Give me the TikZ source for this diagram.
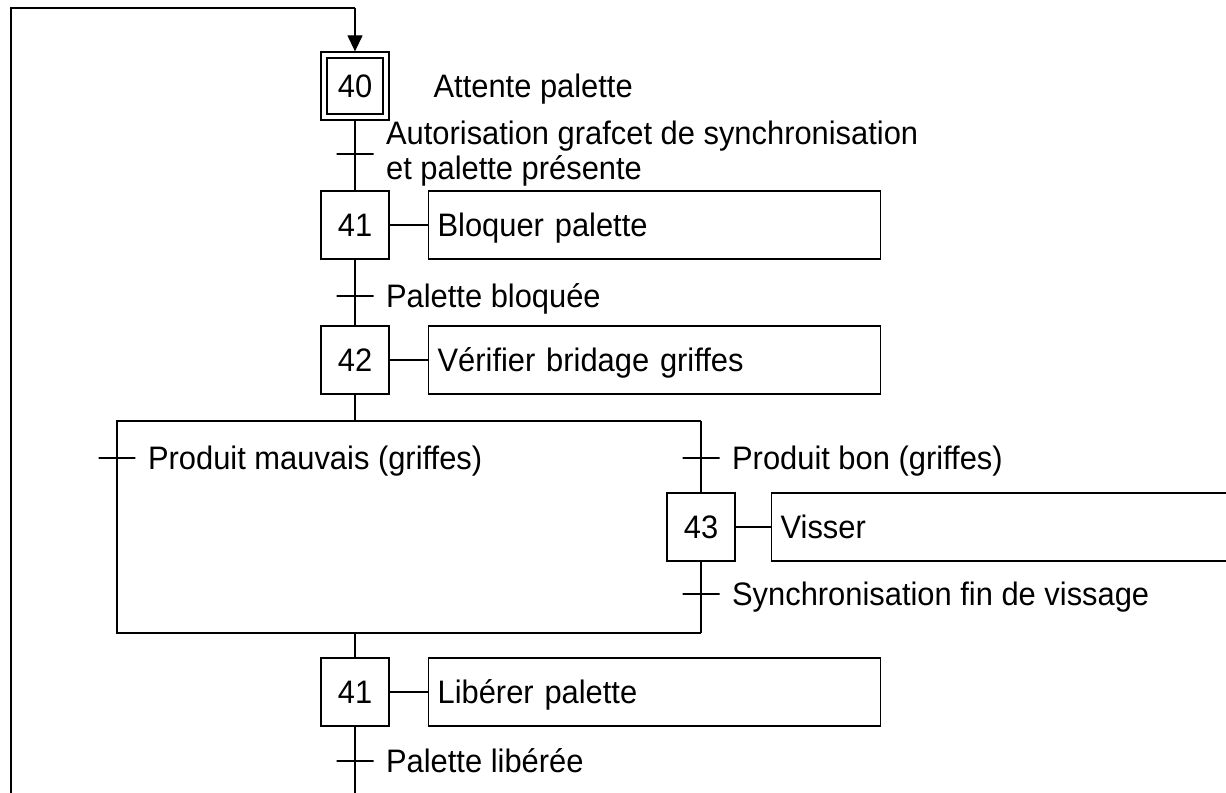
\documentclass[tikz,border=0pt]{standalone}
\usepackage{fontspec}
\setmainfont[FakeStretch=0.95]{Liberation Sans}
\usetikzlibrary{arrows.meta,positioning}
\tikzset{
  etape/.style={draw,minimum width=1.36cm,minimum height=1.36cm,inner sep=0pt},
  etapeinit/.style={draw,double,double distance=0.096cm,minimum width=1.24cm,minimum height=1.24cm,inner sep=0pt,outer sep=0.073cm},
  action/.style={draw,anchor=west,minimum width=9.04cm,minimum height=1.36cm,text width=8.68cm,inner xsep=0.18cm,align=left,text height=13.3pt,text depth=0pt},
  trans/.style={draw,minimum width=0.74cm,minimum height=0pt,inner sep=0pt,outer sep=0pt},
  txt/.style={inner sep=0pt,text height=13.3pt,text depth=0pt},
  fleche/.style={-{Triangle[length=0.32cm,width=0.3cm]}},
}
\begin{document}
\begin{tikzpicture}[x=0.02cm,y=-0.02cm,line width=0.7pt,font=\fontsize{18.5pt}{20pt}\selectfont]
\useasboundingbox (0,0) rectangle (1226,792);
\clip (0,0) rectangle (1226,792);
% etapes
\node[etapeinit] (e40) at (355,86) {40};
\node[etape] (e41) at (355,225) {41};
\node[etape] (e42) at (355,360) {42};
\node[etape] (e43) at (701,527) {43};
\node[etape] (e41b) at (355,692) {41};
% actions
\node[txt,anchor=west] (c40) at (433,86) {Attente palette};
\node[action] (a41) at (428,225) {Bloquer palette};
\node[action] (a42) at (428,360) {Vérifier bridage griffes};
\node[action,minimum width=10cm,text width=9.64cm] (a43) at (771,527) {Visser};
\node[action] (a41b) at (428,692) {Libérer palette};
\draw (e41) -- (a41);
\draw (e42) -- (a42);
\draw (e43) -- (a43);
\draw (e41b) -- (a41b);
% transitions
\node[trans] (t1) at (355,154) {};
\node[trans] (t2) at (355,296) {};
\node[trans] (t3) at (117,458) {};
\node[trans] (t4) at (701,458) {};
\node[trans] (t5) at (701,594) {};
\node[trans] (t6) at (355,761) {};
\node[align=left,inner sep=0pt,right=0.24cm of t1] (r1) {Autorisation grafcet de synchronisation\\et palette présente};
\node[txt,right=0.24cm of t2] (r2) {Palette bloquée};
\node[txt,right=0.24cm of t3] (r3) {Produit mauvais (griffes)};
\node[txt,right=0.24cm of t4] (r4) {Produit bon (griffes)};
\node[txt,right=0.24cm of t5] (r5) {Synchronisation fin de vissage};
\node[txt,right=0.24cm of t6] (r6) {Palette libérée};
% liaisons
\coordinate (divHG) at (117,421);
\coordinate (divHD) at (701,421);
\coordinate (divBG) at (117,633);
\coordinate (divBD) at (701,633);
\coordinate (retourB) at (355,830);
\coordinate (retourG) at (11,830);
\coordinate (retourH) at (11,8);
\draw (e40) -- (t1) -- (e41) -- (t2) -- (e42) -- (e42 |- divHG);
\draw (divHD) -- (divHG) -- (t3) -- (divBG) -- (divBD);
\draw (divHD) -- (t4) -- (e43);
\draw (e43) -- (t5) -- (divBD);
\draw (e41b |- divBG) -- (e41b) -- (t6) -- (retourB) -- (retourG) -- (retourH) -- (retourH -| e40);
\draw[fleche] (retourH -| e40) -- (e40);
\end{tikzpicture}
\end{document}
